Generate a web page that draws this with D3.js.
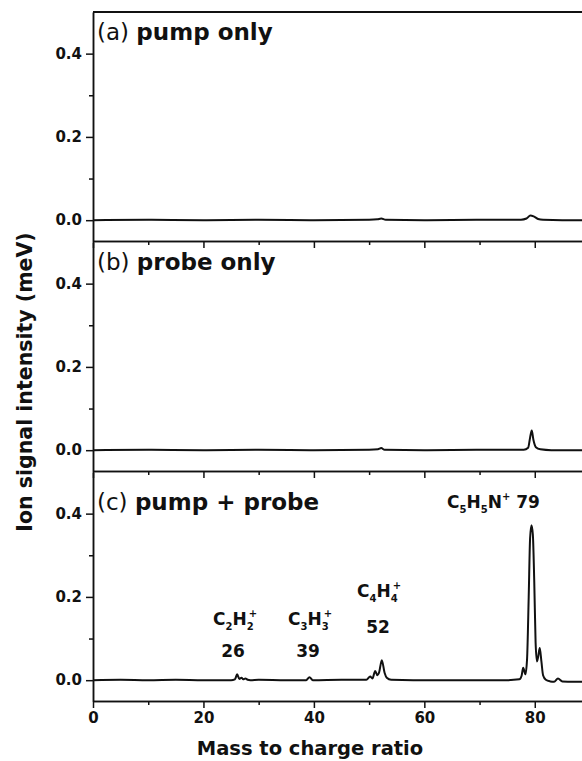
<!DOCTYPE html>
<html>
<head>
<meta charset="utf-8">
<script src="https://cdn.jsdelivr.net/npm/d3@7"></script>
<style>
  body { margin: 0; background: #fff; }
  svg { display: block; font-family: "DejaVu Sans", sans-serif; }
  .domain, .tick line { stroke: #111; stroke-width: 1.5; }
</style>
</head>
<body>
<div id="wrapper"></div>
<script>
// data: [mass/charge, ion signal]
const pumpOnly = [
  [0, 0], [10, 0.001], [20, 0], [30, 0.001], [40, 0], [50, 0.001], [51.5, 0.002], [52.2, 0.004],
  [53, 0.001], [60, 0], [70, 0.001], [77.5, 0.001], [78.5, 0.004], [79.2, 0.011], [79.8, 0.009],
  [80.6, 0.003], [81.5, 0.001], [85, 0], [90, 0]
]
const probeOnly = [
  [0, 0], [10, 0.001], [20, 0], [30, 0.001], [40, 0], [50, 0.001], [51.6, 0.002], [52.2, 0.005],
  [52.8, 0.001], [60, 0], [70, 0.001], [78, 0.001], [78.8, 0.006], [79.15, 0.03], [79.45, 0.047],
  [79.75, 0.025], [80.2, 0.007], [81, 0.002], [83, 0], [90, 0]
]
const pumpProbe = [
  [0, 0], [5, 0.001], [10, 0], [15, 0.001], [20, 0], [25, 0], [25.7, 0.002], [26.1, 0.014],
  [26.5, 0.003], [26.9, 0.006], [27.2, 0.002], [27.6, 0.004], [28, 0.001], [28.5, 0], [30, 0.001],
  [35, 0], [38.6, 0], [39.2, 0.007], [39.8, 0], [45, 0.001], [49.5, 0.001], [50.2, 0.009],
  [50.6, 0.004], [51.1, 0.022], [51.5, 0.012], [51.8, 0.018], [52.3, 0.048], [52.8, 0.018],
  [53.2, 0.006], [54, 0.001], [58, 0], [65, 0], [70, 0], [75, 0], [77.2, 0.002], [77.6, 0.01],
  [77.9, 0.03], [78.3, 0.014], [78.6, 0.05], [78.9, 0.2], [79.15, 0.34], [79.4, 0.372],
  [79.65, 0.35], [79.9, 0.24], [80.15, 0.09], [80.4, 0.045], [80.6, 0.055], [80.9, 0.077],
  [81.2, 0.045], [81.5, 0.012], [82, 0.001], [82.8, -0.003], [83.5, -0.004], [84.2, 0.004],
  [85, -0.003], [87, -0.004], [90, -0.004]
]
const panelTags = ["(a)", "(b)", "(c)"]
const panelNames = ["pump only", "probe only", "pump + probe"]
const xTicks = [0, 20, 40, 60, 80]
const xMinorTicks = [10, 30, 50, 70, 90]
const yTicks = [0, 0.2, 0.4]
const yMinorTicks = [0.1, 0.3]
// peak labels: formula parts [text, "n"|"sub"|"sup"] and mass number
const peakLabels = [
  { parts: [["C", "n"], ["2", "sub"], ["H", "n"], ["2", "sub"], ["+", "sup"]], num: "26" },
  { parts: [["C", "n"], ["3", "sub"], ["H", "n"], ["3", "sub"], ["+", "sup"]], num: "39" },
  { parts: [["C", "n"], ["4", "sub"], ["H", "n"], ["4", "sub"], ["+", "sup"]], num: "52" },
]
const parentLabel = [["C", "n"], ["5", "sub"], ["H", "n"], ["5", "sub"], ["N", "n"], ["+", "sup"], ["\u00a079", "n"]]

const dimensions = {
  width: 582,
  height: 761,
  panelHeight: 229,
  margin: { top: 12, right: -8, left: 93 },
}
dimensions.boundedWidth = dimensions.width - dimensions.margin.left - dimensions.margin.right

const svg = d3.select("#wrapper").append("svg")
    .attr("width", dimensions.width)
    .attr("height", dimensions.height)

const xScale = d3.scaleLinear()
  .domain([0, 90])
  .range([0, dimensions.boundedWidth])

const yScale = d3.scaleLinear()
  .domain([-0.05, 0.5])
  .range([dimensions.panelHeight, 0])

const lineGenerator = d3.line()
  .x(d => xScale(d[0]))
  .y(d => yScale(d[1]))
  .curve(d3.curveMonotoneX)

const styleTicks = sel => sel.selectAll(".tick text")
    .attr("font-family", "DejaVu Sans, sans-serif")
    .style("font-size", "15px")
    .style("font-weight", "bold")
    .attr("fill", "#111")

const series = [pumpOnly, probeOnly, pumpProbe]

series.forEach((data, i) => {
  const top = dimensions.margin.top + i * (dimensions.panelHeight + 1)
  const g = svg.append("g")
      .attr("transform", `translate(${dimensions.margin.left}, ${top})`)

  if (i === 0) {
    g.append("line")
        .attr("x1", 0).attr("x2", dimensions.boundedWidth)
        .attr("y1", 0).attr("y2", 0)
        .attr("stroke", "#111").attr("stroke-width", 2)
  }

  // y axis
  g.append("g")
    .call(d3.axisLeft(yScale).tickValues(yMinorTicks).tickSize(4).tickFormat("").tickSizeOuter(0))
  g.append("g")
    .call(d3.axisLeft(yScale).tickValues(yTicks).tickSize(7).tickPadding(4)
      .tickFormat(d3.format(".1f")).tickSizeOuter(0))
    .call(styleTicks)

  // x axis
  const xAxis = g.append("g")
      .attr("transform", `translate(0, ${dimensions.panelHeight})`)
  xAxis.append("g")
    .call(d3.axisBottom(xScale).tickValues(xMinorTicks).tickSize(4).tickFormat("").tickSizeOuter(0))
  xAxis.append("g")
    .call(d3.axisBottom(xScale).tickValues(xTicks).tickSize(7).tickPadding(4).tickSizeOuter(0)
      .tickFormat(i === 2 ? d3.format("d") : ""))
    .call(styleTicks)

  g.append("path")
      .attr("d", lineGenerator(data))
      .attr("fill", "none")
      .attr("stroke", "#111")
      .attr("stroke-width", 2)
      .attr("stroke-linejoin", "round")

  const label = g.append("text")
      .attr("x", 4)
      .attr("y", i === 2 ? 38 : 28)
      .style("font-size", "23px")
      .attr("fill", "#111")
  label.append("tspan").text(panelTags[i] + " ")
  label.append("tspan").style("font-weight", "bold").text(panelNames[i])

  if (i === 2) {
    // sub/superscripts: a "+" right after a subscript is stacked above it
    const drawFormula = (parts, x, y, anchor) => {
      const t = g.append("text")
          .attr("x", x).attr("y", y)
          .attr("text-anchor", anchor)
          .style("font-size", "17px").style("font-weight", "bold")
          .attr("fill", "#111")
      let cur = 0
      parts.forEach(([s, kind], k) => {
        const target = kind === "sub" ? 5 : kind === "sup" ? -8 : 0
        const ts = t.append("tspan").text(s).attr("dy", target - cur)
        if (kind !== "n") ts.style("font-size", "10px")
        if (kind === "sup" && k > 0 && parts[k - 1][1] === "sub") ts.attr("dx", -5)
        cur = target
      })
      return t
    }

    const annot = [
      { cx: 235, fy: 625, nx: 233, ny: 657 },
      { cx: 310, fy: 625, nx: 308, ny: 657 },
      { cx: 379, fy: 597, nx: 378, ny: 633 },
    ]
    annot.forEach((a, k) => {
      drawFormula(peakLabels[k].parts, a.cx - dimensions.margin.left, a.fy - top, "middle")
      g.append("text")
          .attr("x", a.nx - dimensions.margin.left).attr("y", a.ny - top)
          .attr("text-anchor", "middle")
          .style("font-size", "17px").style("font-weight", "bold")
          .attr("fill", "#111")
          .text(peakLabels[k].num)
    })
    drawFormula(parentLabel, 447 - dimensions.margin.left, 508 - top, "start")
  }
})

// axis titles
svg.append("text")
    .attr("transform", "translate(32, 382) rotate(-90)")
    .attr("text-anchor", "middle")
    .style("font-size", "20.5px").style("font-weight", "bold")
    .attr("fill", "#111")
    .text("Ion signal intensity (meV)")

svg.append("text")
    .attr("x", 310).attr("y", 755)
    .attr("text-anchor", "middle")
    .style("font-size", "19.5px").style("font-weight", "bold")
    .attr("fill", "#111")
    .text("Mass to charge ratio")
</script>
</body>
</html>
